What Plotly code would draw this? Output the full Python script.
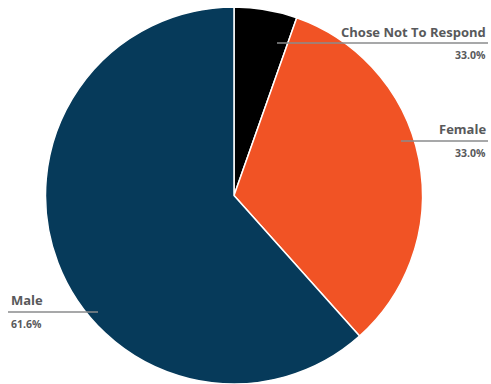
import plotly.graph_objects as go

# Survey responses by gender
categories = ["Chose Not To Respond", "Female", "Male"]
shares = [5.4, 33.0, 61.6]
share_labels = ["33.0%", "33.0%", "61.6%"]
colors = ["#000000", "#f15325", "#063a5a"]

W, H = 491, 384
M_TOP = 7
PLOT_H = H - M_TOP


def px(x):
    return x / W


def py(y):
    return 1 - (y - M_TOP) / PLOT_H


fig = go.Figure(
    go.Pie(
        labels=categories,
        values=shares,
        sort=False,
        direction="clockwise",
        rotation=0,
        marker=dict(colors=colors, line=dict(color="#ffffff", width=1.5)),
        textinfo="none",
        hoverinfo="label+percent",
        domain=dict(x=[45 / W, 423 / W], y=[0, 1]),
        showlegend=False,
    )
)

label_color = "#58595b"
font_name = "Open Sans, sans-serif"

# label placement: (name y, value y, line y, line x0, line x1, text x, anchor)
placements = [
    (32, 55, 43, 277, 488, 488, "right"),
    (129, 153, 141, 401, 488, 488, "right"),
    (300, 324, 312, 8, 98, 9, "left"),
]

annotations = []
shapes = []
for name, val, (ny, vy, ly, lx0, lx1, tx, anchor) in zip(categories, share_labels, placements):
    annotations.append(dict(
        x=px(tx), y=py(ny), xref="paper", yref="paper",
        text=f"<b>{name}</b>", showarrow=False, xanchor=anchor, yanchor="middle",
        font=dict(family=font_name, size=13, color=label_color),
    ))
    annotations.append(dict(
        x=px(tx), y=py(vy), xref="paper", yref="paper",
        text=f"<b>{val}</b>", showarrow=False, xanchor=anchor, yanchor="middle",
        font=dict(family=font_name, size=10.5, color=label_color),
    ))
    shapes.append(dict(
        type="line", xref="paper", yref="paper",
        x0=px(lx0), x1=px(lx1), y0=py(ly), y1=py(ly),
        line=dict(color="#8a8b8d", width=1.5),
    ))

fig.update_layout(
    width=W, height=H,
    margin=dict(l=0, r=0, t=M_TOP, b=0),
    paper_bgcolor="#ffffff",
    plot_bgcolor="#ffffff",
    annotations=annotations,
    shapes=shapes,
)

fig.write_html("out.html")
